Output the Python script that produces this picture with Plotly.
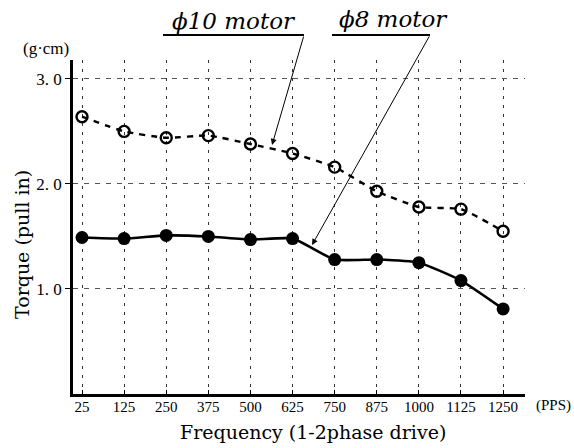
import plotly.graph_objects as go

freq_labels = ["25", "125", "250", "375", "500", "625", "750", "875", "1000", "1125", "1250"]
torque_phi10 = [2.64, 2.50, 2.44, 2.46, 2.38, 2.29, 2.16, 1.93, 1.78, 1.76, 1.55]
torque_phi8 = [1.49, 1.48, 1.51, 1.50, 1.47, 1.48, 1.28, 1.28, 1.25, 1.08, 0.81]
y_ticks = [1.0, 2.0, 3.0]
y_tick_text = ["1. 0", "2. 0", "3. 0"]

xi = list(range(len(freq_labels)))
SERIF = "Liberation Serif, DejaVu Serif, serif"
WIDE = "DejaVu Serif, Liberation Serif, serif"

L, R, T, B = 73, 525, 60, 394


def px_x(p):
    return (p - L) / (R - L)


def px_y(p):
    return (B - p) / (B - T)


fig = go.Figure()
fig.add_trace(go.Scatter(
    x=xi, y=torque_phi10, mode="lines+markers", name="φ10 motor",
    line=dict(color="black", width=2.4, dash="6px,6px", shape="spline", smoothing=0.5),
    marker=dict(symbol="circle-open", size=11, color="black", line=dict(width=2.4)),
    cliponaxis=False,
))
fig.add_trace(go.Scatter(
    x=xi, y=torque_phi8, mode="lines+markers", name="φ8 motor",
    line=dict(color="black", width=2.6, shape="spline", smoothing=0.5),
    marker=dict(symbol="circle", size=13, color="black"),
    cliponaxis=False,
))

fig.update_layout(
    width=574, height=448,
    margin=dict(l=L, r=574 - R, t=T, b=448 - B, autoexpand=False),
    paper_bgcolor="white", plot_bgcolor="white",
    showlegend=False,
    font=dict(family=SERIF, color="black"),
    xaxis=dict(
        range=[-0.214, 10.52],
        tickmode="array", tickvals=xi, ticktext=freq_labels,
        tickfont=dict(size=15, family=SERIF),
        showgrid=True, gridcolor="#333", gridwidth=1.2, griddash="3px,6px",
        showline=True, linecolor="black", linewidth=2.5,
        ticks="inside", ticklen=4, tickcolor="black",
        ticklabelstandoff=-3,
        zeroline=False, automargin=False,
    ),
    yaxis=dict(
        range=[0, 3.18],
        tickmode="array", tickvals=y_ticks, ticktext=y_tick_text,
        tickfont=dict(size=17, family=SERIF),
        showgrid=True, gridcolor="#555", gridwidth=1, griddash="5px,6px",
        showline=True, linecolor="black", linewidth=2.5,
        ticks="outside", ticklen=5, tickcolor="black",
        zeroline=False, automargin=False,
    ),
)

# axis titles
fig.add_annotation(x=px_x(313), y=px_y(432), xref="paper", yref="paper", xanchor="center", yanchor="middle",
                   text="Frequency (1-2phase drive)", showarrow=False, font=dict(size=19, family=WIDE))
fig.add_annotation(x=px_x(22), y=px_y(245), xref="paper", yref="paper", xanchor="center", yanchor="middle",
                   text="Torque (pull in)", textangle=-90, showarrow=False, font=dict(size=19, family=WIDE))

# unit labels
fig.add_annotation(x=px_x(46), y=px_y(49), xref="paper", yref="paper", yanchor="middle", xanchor="center",
                   text="(g·cm)", showarrow=False, font=dict(size=17, family=SERIF))
fig.add_annotation(x=px_x(553), y=px_y(405), xref="paper", yref="paper", xanchor="center", yanchor="middle",
                   text="(PPS)", showarrow=False, font=dict(size=15, family=SERIF))

# motor labels with underline and arrow
fig.add_annotation(x=px_x(234), y=px_y(21), xref="paper", yref="paper", xanchor="center", yanchor="middle",
                   text="<i>ϕ10 motor</i>", showarrow=False, font=dict(size=23, family=WIDE))
fig.add_annotation(x=px_x(393), y=px_y(19), xref="paper", yref="paper", xanchor="center", yanchor="middle",
                   text="<i>ϕ8 motor</i>", showarrow=False, font=dict(size=23, family=WIDE))
fig.add_shape(type="line", xref="paper", yref="paper", x0=px_x(163), x1=px_x(304), y0=px_y(35), y1=px_y(35),
              line=dict(color="black", width=2))
fig.add_shape(type="line", xref="paper", yref="paper", x0=px_x(332), x1=px_x(430), y0=px_y(35), y1=px_y(35),
              line=dict(color="black", width=2))

fig.add_annotation(x=(272 - 82) / 42.1, y=(394 - 145) / 105, xref="x", yref="y", ax=32, ay=-110,
                   showarrow=True, arrowhead=2, arrowsize=1.2, arrowwidth=1, arrowcolor="black", text="")
fig.add_annotation(x=(312 - 82) / 42.1, y=(394 - 245) / 105, xref="x", yref="y", ax=118, ay=-210,
                   showarrow=True, arrowhead=2, arrowsize=1.2, arrowwidth=1, arrowcolor="black", text="")

fig.write_html("out.html", config={"displayModeBar": False},
               post_script="document.body.style.margin='0';")
